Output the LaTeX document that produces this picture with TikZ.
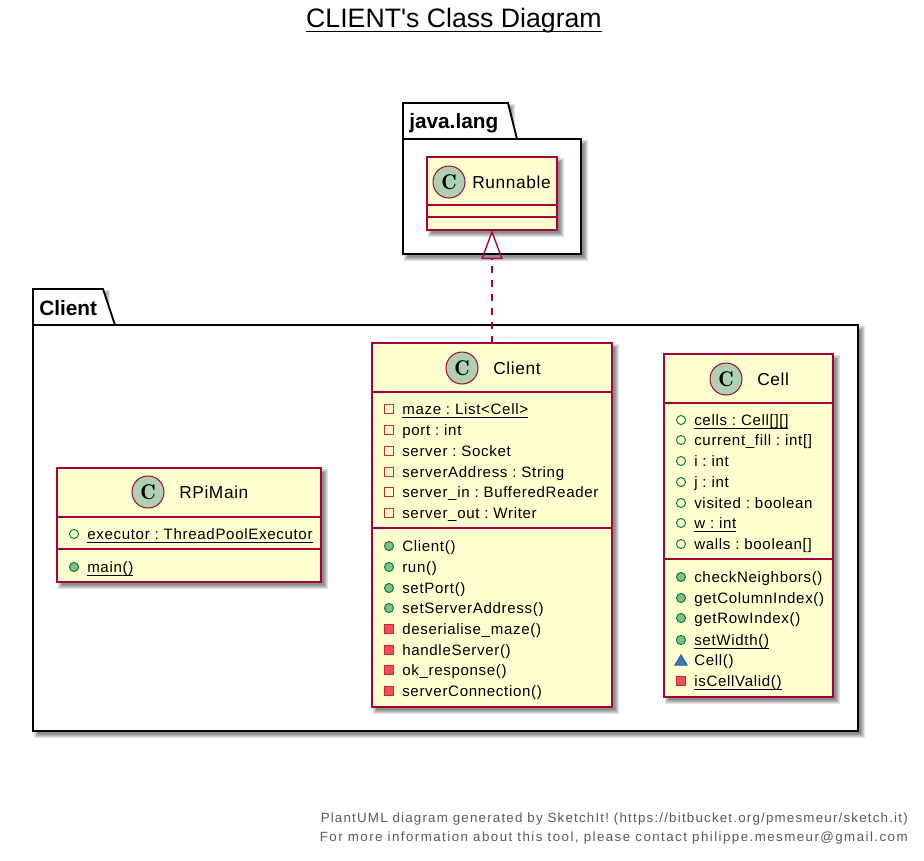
\documentclass[tikz,border=0pt]{standalone}
\usepackage{fontspec}
\setmainfont{Liberation Sans}
\newfontfamily\titlefont{Liberation Sans}
\newfontfamily\memberfont[LetterSpace=4.5]{Liberation Sans}
\newfontfamily\namefont[LetterSpace=3.5]{Liberation Sans}
\newfontfamily\footeronefont[LetterSpace=9]{Liberation Sans}
\newfontfamily\footertwofont[LetterSpace=10.8]{Liberation Sans}
\usetikzlibrary{arrows.meta}
\definecolor{umlline}{HTML}{A80036}
\definecolor{umlfill}{HTML}{FEFECE}
\definecolor{umlspot}{HTML}{ADD1B2}
\definecolor{publine}{HTML}{038048}
\definecolor{pubfill}{HTML}{84BE84}
\definecolor{privline}{HTML}{C82930}
\definecolor{privfill}{HTML}{F24D5C}
\definecolor{pkgline}{HTML}{1963A0}
\definecolor{pkgfill}{HTML}{4177AF}
\tikzset{
	classbox/.style={draw=umlline, fill=umlfill, line width=1.1pt, inner sep=0pt, outer sep=0pt},
	classrule/.style={draw=umlline, line width=1.1pt},
	spot/.style={draw=umlline, fill=umlspot, circle, line width=0.75pt, minimum size=24pt, inner sep=0pt, font=\fontfamily{lmr}\bfseries\fontsize{16pt}{17pt}\selectfont},
	classname/.style={anchor=base west, inner sep=0pt, font=\namefont\fontsize{13pt}{15pt}\selectfont},
	member/.style={anchor=base west, inner sep=0pt, font=\memberfont\frenchspacing\fontsize{11.3pt}{14pt}\selectfont},
	package/.style={draw=black, fill=white, line width=1.4pt, line join=miter},
	packagename/.style={anchor=base west, inner sep=0pt, font=\bfseries\fontsize{15.6pt}{17pt}\selectfont},
	footer/.style={anchor=base east, inner sep=0pt, text=black!65, font=\frenchspacing\fontsize{10pt}{12pt}\selectfont},
}
\newcommand{\softshadow}[4]{
	\foreach \grow in {3,2,1,0,-1}
		\fill[black, opacity=0.11] (#1+4-\grow, #2+4-\grow) rectangle (#3+4+\grow, #4+4+\grow);
}
\newcommand{\umlunder}[1]{\leavevmode\setbox0\hbox{#1}\rlap{\copy0}\rule[-2.8pt]{\wd0}{0.8pt}}
\newcommand{\pubfield}[2]{\draw[publine, line width=0.75pt] (#1, #2) circle (3.4pt);}
\newcommand{\pubmethod}[2]{\draw[publine, fill=pubfill, line width=0.75pt] (#1, #2) circle (3.4pt);}
\newcommand{\privfield}[2]{\draw[privline, line width=0.75pt] (#1-4.5, #2-4.5) rectangle (#1+4.5, #2+4.5);}
\newcommand{\privmethod}[2]{\draw[privline, fill=privfill, line width=0.75pt] (#1-4.5, #2-4.5) rectangle (#1+4.5, #2+4.5);}
\newcommand{\pkgmethod}[2]{\draw[pkgline, fill=pkgfill, line width=0.75pt] (#1-6, #2+5) -- (#1, #2-5) -- (#1+6, #2+5) -- cycle;}
\begin{document}
\begin{tikzpicture}[x=0.75pt, y=-0.75pt]
	\useasboundingbox (0, 0) rectangle (924, 860);
	%%%%% START %%%%%
	
	\node[anchor=base, inner sep=0pt, font=\titlefont\frenchspacing\fontsize{20pt}{22pt}\selectfont] (title) at (454, 27) {CLIENT's Class Diagram};
	\draw[line width=1.2pt] ([yshift=-3.4pt]title.base west) -- ([yshift=-3.4pt]title.base east);
	
	%%%%% java.lang %%%%%
	\softshadow{403}{103}{508}{139}
	\softshadow{403}{139}{581}{254}
	\draw[package] (403, 139) -- (403, 103) -- (508, 103) -- (517, 139) -- (581, 139) -- (581, 254) -- (403, 254) -- cycle;
	\draw[package] (403, 139) -- (517, 139);
	\node[packagename] (javalangname) at (409, 128) {java.lang};
	
	%%%%% Client package %%%%%
	\softshadow{33}{289}{103}{325}
	\softshadow{33}{325}{858}{731}
	\draw[package] (33, 325) -- (33, 289) -- (103, 289) -- (115, 325) -- (858, 325) -- (858, 731) -- (33, 731) -- cycle;
	\draw[package] (33, 325) -- (115, 325);
	\node[packagename] (clientname) at (39, 315) {Client};
	
	%%%%% Runnable %%%%%
	\softshadow{427}{157}{557}{230}
	\node[classbox, minimum width=97.5pt, minimum height=54.75pt] (runnable) at (492, 193.5) {};
	\draw[classrule] (427, 205) -- (557, 205);
	\draw[classrule] (427, 217) -- (557, 217);
	\node[spot] (runnablespot) at (449, 182) {C};
	\node[classname] (runnablename) at (472, 188) {Runnable};
	
	%%%%% RPiMain %%%%%
	\softshadow{57}{468}{321}{582}
	\node[classbox, minimum width=198pt, minimum height=85.5pt] (rpimain) at (189, 525) {};
	\draw[classrule] (57, 517) -- (321, 517);
	\draw[classrule] (57, 549) -- (321, 549);
	\node[spot] (rpimainspot) at (148, 492) {C};
	\node[classname] (rpimainname) at (179, 498) {RPiMain};
	\pubfield{74}{534}
	\node[member] (executor) at (87, 539) {\umlunder{executor : ThreadPoolExecutor}};
	\pubmethod{74}{567}
	\node[member] (mainop) at (87, 572) {\umlunder{main()}};
	
	%%%%% Client %%%%%
	\softshadow{372}{343}{612}{707}
	\node[classbox, minimum width=180pt, minimum height=273pt] (client) at (492, 525) {};
	\draw[classrule] (372, 392) -- (612, 392);
	\draw[classrule] (372, 528) -- (612, 528);
	\node[spot] (clientspot) at (462, 368) {C};
	\node[classname] (clientclassname) at (493, 374) {Client};
	\privfield{389}{409}
	\node[member] (maze) at (402, 414) {\umlunder{maze : List<Cell>}};
	\privfield{389}{430}
	\node[member] (port) at (402, 435) {port : int};
	\privfield{389}{451}
	\node[member] (server) at (402, 456) {server : Socket};
	\privfield{389}{472}
	\node[member] (serveraddress) at (402, 477) {serverAddress : String};
	\privfield{389}{492}
	\node[member] (serverin) at (402, 497) {server\_in : BufferedReader};
	\privfield{389}{513}
	\node[member] (serverout) at (402, 518) {server\_out : Writer};
	\pubmethod{389}{546}
	\node[member] (clientop) at (402, 551) {Client()};
	\pubmethod{389}{567}
	\node[member] (runop) at (402, 572) {run()};
	\pubmethod{389}{588}
	\node[member] (setport) at (402, 593) {setPort()};
	\pubmethod{389}{608}
	\node[member] (setaddress) at (402, 613) {setServerAddress()};
	\privmethod{389}{629}
	\node[member] (deserialise) at (402, 634) {deserialise\_maze()};
	\privmethod{389}{650}
	\node[member] (handleserver) at (402, 655) {handleServer()};
	\privmethod{389}{670}
	\node[member] (okresponse) at (402, 675) {ok\_response()};
	\privmethod{389}{691}
	\node[member] (serverconn) at (402, 696) {serverConnection()};
	
	%%%%% Cell %%%%%
	\softshadow{664}{354}{833}{697}
	\node[classbox, minimum width=126.75pt, minimum height=257.25pt] (cell) at (748.5, 525.5) {};
	\draw[classrule] (664, 403) -- (833, 403);
	\draw[classrule] (664, 559) -- (833, 559);
	\node[spot] (cellspot) at (726, 379) {C};
	\node[classname] (cellname) at (757, 385) {Cell};
	\pubfield{681}{420}
	\node[member] (cells) at (694, 425) {\umlunder{cells : Cell[][]}};
	\pubfield{681}{440}
	\node[member] (currentfill) at (694, 445) {current\_fill : int[]};
	\pubfield{681}{461}
	\node[member] (celli) at (694, 466) {i : int};
	\pubfield{681}{482}
	\node[member] (cellj) at (694, 487) {j : int};
	\pubfield{681}{503}
	\node[member] (visited) at (694, 508) {visited : boolean};
	\pubfield{681}{523}
	\node[member] (cellw) at (694, 528) {\umlunder{w : int}};
	\pubfield{681}{544}
	\node[member] (walls) at (694, 549) {walls : boolean[]};
	\pubmethod{681}{577}
	\node[member] (checkneighbors) at (694, 582) {checkNeighbors()};
	\pubmethod{681}{598}
	\node[member] (getcolumn) at (694, 603) {getColumnIndex()};
	\pubmethod{681}{618}
	\node[member] (getrow) at (694, 623) {getRowIndex()};
	\pubmethod{681}{640}
	\node[member] (setwidth) at (694, 645) {\umlunder{setWidth()}};
	\pkgmethod{681}{660}
	\node[member] (cellop) at (694, 665) {Cell()};
	\privmethod{681}{681}
	\node[member] (iscellvalid) at (694, 686) {\umlunder{isCellValid()}};
	
	%%%%% realization %%%%%
	\draw[umlline, line width=1pt, dash pattern=on 5.25pt off 5.25pt, -{Triangle[open, length=21.75pt, width=16pt]}] (client.north) -- (runnable.south);
	
	%%%%% footer %%%%%
	\node[footer] (footerone) at (908, 822) {\footeronefont PlantUML diagram generated by SketchIt! (https://bitbucket.org/pmesmeur/sketch.it)};
	\node[footer] (footertwo) at (908, 841) {\footertwofont For more information about this tool, please contact philippe.mesmeur@gmail.com};
	
	%%%%% END %%%%%
\end{tikzpicture}
\end{document}
